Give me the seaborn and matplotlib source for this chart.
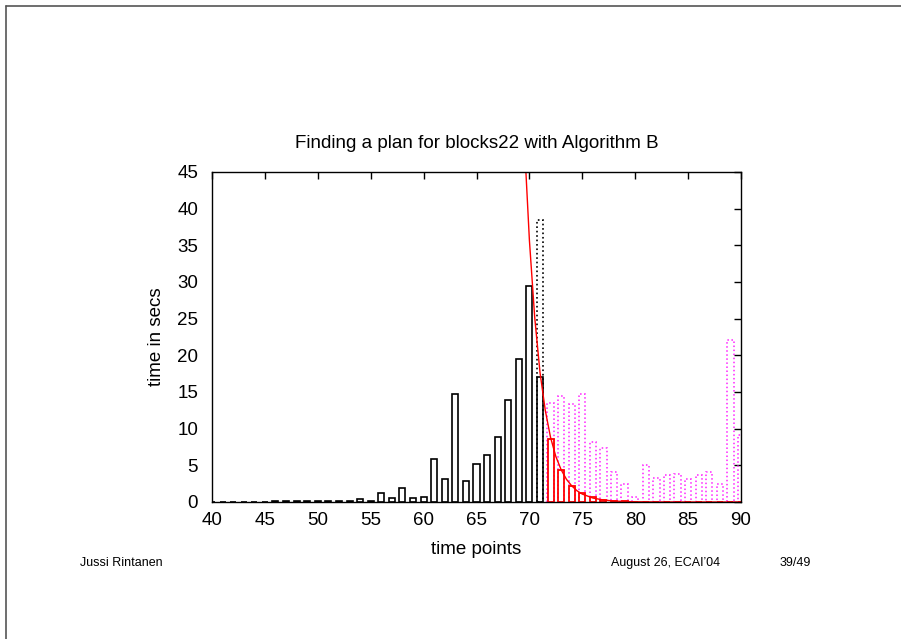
import matplotlib
matplotlib.use("Agg")
import matplotlib.pyplot as plt
from matplotlib.lines import Line2D
import seaborn as sns

# ---------------- data ----------------
black_x = list(range(40, 72))
black_y = [0.05, 0.05, 0.05, 0.05, 0.05, 0.05, 0.15, 0.1, 0.1, 0.15,
           0.15, 0.1, 0.1, 0.2, 0.45, 0.2, 1.27, 0.5, 1.9, 0.5,
           0.73, 5.87, 3.09, 14.7, 2.82, 5.14, 6.41, 8.82, 13.9, 19.46,
           29.4, 17.1]

dotted_x = [71]
dotted_y = [38.4]

magenta_x = list(range(72, 91))
magenta_y = [13.5, 14.5, 13.3, 14.7, 8.2, 7.3, 4.1, 2.45, 0.73, 5.1,
             3.3, 3.7, 3.8, 3.2, 3.7, 4.1, 2.45, 22.1, 9.1]

red_x = list(range(72, 91))
red_y = [8.55, 4.36, 2.18, 1.18, 0.64, 0.3, 0.15, 0.07, 0, 0,
         0, 0, 0, 0, 0, 0, 0, 0, 0]

curve_x = [69.4, 69.67, 70, 70.5, 71, 71.5, 72, 72.5, 73, 73.5, 74, 74.5,
           75, 76, 77, 78, 79, 80, 82, 85, 90]
curve_y = [54, 45, 35.7, 25.2, 17.7, 12.5, 8.8, 6.2, 4.4, 3.1, 2.2, 1.53,
           1.08, 0.54, 0.27, 0.13, 0.065, 0.032, 0.008, 0.001, 0]

x_ticks = [40, 45, 50, 55, 60, 65, 70, 75, 80, 85, 90]
y_ticks = [0, 5, 10, 15, 20, 25, 30, 35, 40, 45]

title = "Finding a plan for blocks22 with Algorithm B"
xlabel = "time points"
ylabel = "time in secs"
footer_left = "Jussi Rintanen"
footer_mid = "August 26, ECAI\u201904"
footer_right = "39/49"

# ---------------- style ----------------
sns.set_style("white")
plt.rcParams["font.family"] = ["Liberation Sans", "DejaVu Sans"]
plt.rcParams["text.color"] = "black"
plt.rcParams["axes.labelcolor"] = "black"
plt.rcParams["xtick.color"] = "black"
plt.rcParams["ytick.color"] = "black"

W, H = 901, 639
fig = plt.figure(figsize=(W / 100, H / 100), dpi=100)
ax = fig.add_axes([212 / W, 1 - 502 / H, 529 / W, 330 / H])

bw = 0.57
sns.barplot(x=black_x, y=black_y, native_scale=True, fill=False,
            color="black", width=bw, errorbar=None, linewidth=1.2, ax=ax)
sns.barplot(x=dotted_x, y=dotted_y, native_scale=True, fill=False,
            color="black", width=bw, errorbar=None, linewidth=1.2,
            linestyle=":", ax=ax)
sns.barplot(x=magenta_x, y=magenta_y, native_scale=True, fill=False,
            color="#ff22ff", width=0.6, errorbar=None, linewidth=1.1,
            linestyle=":", ax=ax)
sns.barplot(x=red_x, y=red_y, native_scale=True, fill=False,
            color="red", width=bw, errorbar=None, linewidth=1.3, ax=ax)
sns.lineplot(x=curve_x, y=curve_y, color="red", linewidth=1.0,
             sort=False, estimator=None, ax=ax)

ax.set_xlim(40, 90)
ax.set_ylim(0, 45)
ax.set_xticks(x_ticks)
ax.set_yticks(y_ticks)
ax.set_xticklabels([str(t) for t in x_ticks])
ax.set_yticklabels([str(t) for t in y_ticks])

for s in ax.spines.values():
    s.set_visible(True)
    s.set_color("black")
    s.set_linewidth(1.0)

ax.tick_params(axis="both", direction="in", top=True, right=True,
               length=5, width=1, labelsize=13.5, colors="black")
ax.tick_params(axis="x", pad=7)
ax.tick_params(axis="y", pad=10)

ax.set_title(title, fontsize=13.5, pad=17, color="black")
ax.set_xlabel(xlabel, fontsize=13.5, color="black")
ax.set_ylabel(ylabel, fontsize=13.5, color="black")
ax.xaxis.set_label_coords(0.5, -0.118)
ax.yaxis.set_label_coords(-0.088, 0.5)

# footer
fy = 1 - 563 / H
fig.text(80 / W, fy, footer_left, fontsize=9, ha="left", va="center", color="black")
fig.text(611 / W, fy, footer_mid, fontsize=9, ha="left", va="center", color="black")
fig.text(780 / W, fy, footer_right, fontsize=9, ha="left", va="center", color="black")

# slide frame (left and top edges)
fig.add_artist(Line2D([5.5 / W, 5.5 / W], [0, 1 - 5.5 / H],
                      transform=fig.transFigure, color="#555555", lw=1.2))
fig.add_artist(Line2D([5.5 / W, 1], [1 - 5.5 / H, 1 - 5.5 / H],
                      transform=fig.transFigure, color="#555555", lw=1.2))

fig.savefig("out.png", dpi=100)
